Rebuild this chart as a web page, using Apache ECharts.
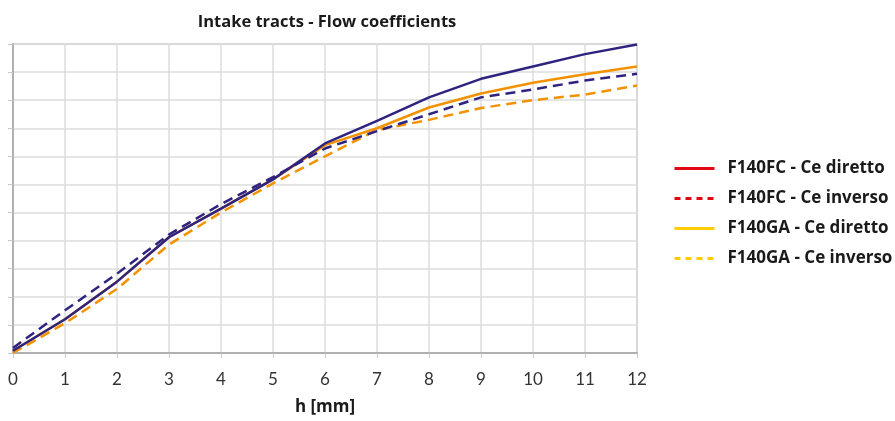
<!DOCTYPE html>
<html>
<head>
<meta charset="utf-8">
<script src="https://cdn.jsdelivr.net/npm/echarts@6/dist/echarts.min.js"></script>
<style>
  html, body { margin: 0; padding: 0; background: #fff; }
  #chart { width: 895px; height: 421px; }
</style>
</head>
<body>
<div id="chart"></div>
<script>
// h [mm]
var hValues = [0, 1, 2, 3, 4, 5, 6, 7, 8, 9, 10, 11, 12];
// flow coefficients (axis has no labels)
var fcDiretto = [0.004, 0.060, 0.127, 0.206, 0.257, 0.309, 0.373, 0.413, 0.455, 0.488, 0.510, 0.532, 0.549];
var fcInverso = [0.009, 0.076, 0.141, 0.211, 0.265, 0.313, 0.364, 0.395, 0.425, 0.455, 0.469, 0.485, 0.497];
var gaDiretto = [0.004, 0.060, 0.127, 0.206, 0.257, 0.309, 0.370, 0.400, 0.437, 0.462, 0.481, 0.496, 0.510];
var gaInverso = [0.000, 0.053, 0.114, 0.193, 0.250, 0.302, 0.350, 0.397, 0.415, 0.436, 0.450, 0.460, 0.476];
var seriesNames = ['F140FC - Ce diretto', 'F140FC - Ce inverso', 'F140GA - Ce diretto', 'F140GA - Ce inverso'];

function pairs(ys) {
    return hValues.map(function (h, i) { return [h, ys[i]]; });
}

var chart = echarts.init(document.getElementById('chart'));
var FONT = '"Open Sans", Lato, sans-serif';
var noDot = { color: 'transparent', borderWidth: 0, opacity: 0 };
var option = {
    animation: false,
    title: {
        text: 'Intake tracts - Flow coefficients',
        left: 322,
        textAlign: 'center',
        top: 9,
        textStyle: { fontFamily: FONT, fontSize: 16.5, fontWeight: 'bold', color: '#1a1a1a' }
    },
    legend: {
        orient: 'vertical',
        left: 668,
        top: 155,
        itemWidth: 40,
        itemHeight: 14,
        itemGap: 13,
        textStyle: { fontFamily: FONT, fontSize: 17, fontWeight: 'bold', color: '#1a1a1a', padding: [0, 0, 0, 8] },
        data: [
            { name: seriesNames[0], itemStyle: noDot, lineStyle: { color: '#e30613', type: 'solid', width: 3 } },
            { name: seriesNames[1], itemStyle: noDot, lineStyle: { color: '#e30613', type: [6, 5], width: 3 } },
            { name: seriesNames[2], itemStyle: noDot, lineStyle: { color: '#ffcc00', type: 'solid', width: 3 } },
            { name: seriesNames[3], itemStyle: noDot, lineStyle: { color: '#ffcc00', type: [6, 5], width: 3 } }
        ]
    },
    grid: {
        left: 13,
        right: 258,
        top: 44,
        bottom: 64,
        show: true,
        borderColor: '#bdbdbd',
        borderWidth: 1.5
    },
    xAxis: {
        type: 'value',
        min: 0,
        max: 12,
        interval: 1,
        name: 'h [mm]',
        nameLocation: 'middle',
        nameGap: 46,
        nameTextStyle: { fontFamily: FONT, fontSize: 17, fontWeight: 'bold', color: '#1a1a1a' },
        axisLine: { lineStyle: { color: '#b0b0b0', width: 2 } },
        axisTick: { length: 5, lineStyle: { color: '#c8c8c8' } },
        axisLabel: { fontFamily: 'Lato, sans-serif', fontSize: 17, color: '#333', margin: 18 },
        splitLine: { lineStyle: { color: '#dcdcdc', width: 1.5 } }
    },
    yAxis: {
        type: 'value',
        min: 0,
        max: 0.55,
        interval: 0.05,
        axisLine: { show: true, lineStyle: { color: '#b0b0b0', width: 2 } },
        axisTick: { show: true, length: 5, lineStyle: { color: '#c8c8c8' } },
        axisLabel: { show: false },
        splitLine: { lineStyle: { color: '#dcdcdc', width: 1.5 } }
    },
    series: [
        {
            name: seriesNames[0], type: 'line', symbol: 'none', z: 5,
            lineStyle: { color: '#2f2380', width: 2.5 },
            itemStyle: { color: '#2f2380' },
            data: pairs(fcDiretto)
        },
        {
            name: seriesNames[1], type: 'line', symbol: 'none', z: 4,
            lineStyle: { color: '#2f2380', width: 2.5, type: [10, 6] },
            itemStyle: { color: '#2f2380' },
            data: pairs(fcInverso)
        },
        {
            name: seriesNames[2], type: 'line', symbol: 'none', z: 2,
            lineStyle: { color: '#f39200', width: 2.5 },
            itemStyle: { color: '#f39200' },
            data: pairs(gaDiretto)
        },
        {
            name: seriesNames[3], type: 'line', symbol: 'none', z: 3,
            lineStyle: { color: '#f39200', width: 2.5, type: [10, 6] },
            itemStyle: { color: '#f39200' },
            data: pairs(gaInverso)
        }
    ]
};
chart.setOption(option);
</script>
</body>
</html>
